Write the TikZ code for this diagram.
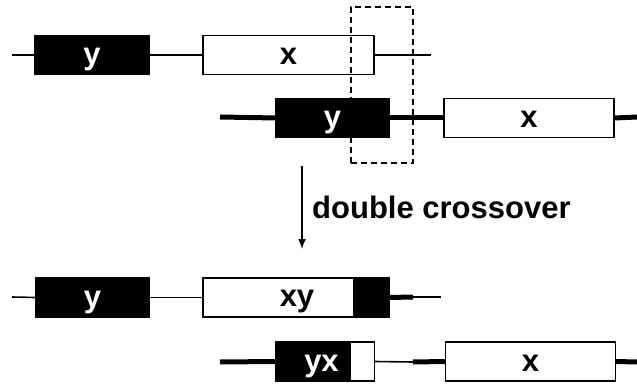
\documentclass[tikz,border=0pt]{standalone}
\usepackage{fontspec}
\setmainfont{Liberation Sans}
\usetikzlibrary{arrows.meta}
\begin{document}
\begin{tikzpicture}[x=1pt,y=-1pt,
  lbl/.style={font=\fontsize{31}{37}\selectfont\bfseries},
  bbox/.style={draw=black,fill=black,line width=1.5pt,inner sep=0pt,outer sep=0pt,minimum height=39pt,text=white,lbl,text height=19pt,text depth=0pt},
  wbox/.style={draw=black,fill=white,line width=1.5pt,inner sep=0pt,outer sep=0pt,minimum height=39pt,text=black,lbl,text height=19pt,text depth=0pt},
  thinline/.style={line width=1.6pt},
  thickline/.style={line width=5pt},
  dashbox/.style={draw=black,dash pattern=on 6pt off 4pt,line width=1.5pt,inner sep=0pt,minimum width=62pt,minimum height=156pt},
  txt/.style={lbl,inner sep=0pt,anchor=base}]
\useasboundingbox (0,0) rectangle (637,385);
% row 1
\coordinate (r1a) at (12,55);
\coordinate (r1b) at (431,55);
\node[bbox,minimum width=114pt] (y1) at (92,55) {y};
\node[wbox,minimum width=171pt] (x1) at (288.5,55) {x};
\draw[thinline] (r1a) -- (y1.west);
\draw[thinline] (y1.east) -- (x1.west);
\draw[thinline] (x1.east) -- (r1b);
% row 2
\coordinate (r2a) at (220,117);
\coordinate (r2b) at (637,117);
\node[bbox,minimum width=113pt] (y2) at (332.5,118) {y};
\node[wbox,minimum width=170pt] (x2) at (529,118) {x};
\draw[thickline] (r2a) -- (y2.west);
\draw[thickline] (y2.east) -- (x2.west);
\draw[thickline] (x2.east) -- (r2b);
% dashed box
\node[dashbox] (db) at (382,85) {};
% arrow
\coordinate (arS) at (302,166);
\coordinate (arE) at (302,249);
\draw[line width=1.5pt,-{Latex[length=10pt,width=8pt]}] (arS) -- (arE);
\node[txt,anchor=base west] (dc) at (312,218.5) {double crossover};
% row 3
\coordinate (r3a) at (12,297);
\coordinate (r3m) at (413,297);
\coordinate (r3b) at (441,297);
\node[bbox,minimum width=113pt] (y3) at (92.5,297.5) {y};
\node[wbox,minimum width=151pt] (xyw) at (278.5,297.5) {};
\node[bbox,minimum width=35pt] (xyb) at (371.5,297.5) {};
\node[txt] (xyt) at (297,306.5) {xy};
\draw[thinline] (r3a) -- (y3.west);
\draw[thinline] (y3.east) -- (xyw.west);
\draw[thickline] (xyb.east) -- (r3m);
\draw[thinline] (r3m) -- (r3b);
% row 4
\coordinate (r4a) at (220,362);
\coordinate (r4m) at (413,362);
\coordinate (r4b) at (637,362);
\node[bbox,minimum width=75pt] (yxb) at (313,361.5) {};
\node[wbox,minimum width=24pt] (yxw) at (362.5,361.5) {};
\node[txt,text=white] (yxt) at (321.5,371) {yx};
\node[wbox,minimum width=170pt] (x4) at (530.5,361.5) {x};
\draw[thickline] (r4a) -- (yxb.west);
\draw[thinline] (yxw.east) -- (r4m);
\draw[thickline] (r4m) -- (x4.west);
\draw[thickline] (x4.east) -- (r4b);
\end{tikzpicture}
\end{document}
